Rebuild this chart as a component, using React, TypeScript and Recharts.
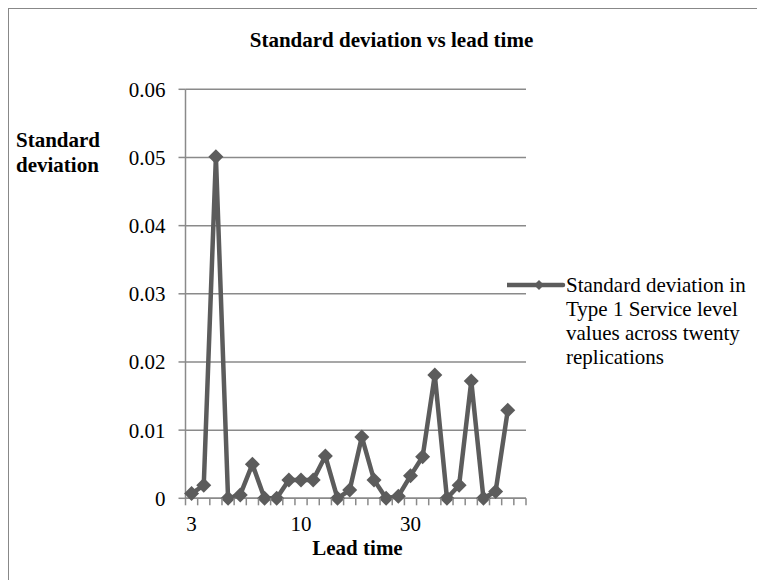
import React from "react";
import { ComposedChart, Line, XAxis, YAxis, CartesianGrid, Legend, Customized } from "recharts";

const leadTimes: string[] = [
  "3", "3", "3", "3", "3", "3", "3", "3", "3",
  "10", "10", "10", "10", "10", "10", "10", "10", "10",
  "30", "30", "30", "30", "30", "30", "30", "30", "30",
  "",
];

const stdDev: (number | null)[] = [
  0.0007, 0.0019, 0.0501, 0, 0.0005, 0.005, 0, 0, 0.0027,
  0.0027, 0.0027, 0.0062, 0, 0.0012, 0.009, 0.0027, 0, 0.0003,
  0.0033, 0.0061, 0.0181, 0, 0.0019, 0.0172, 0, 0.001, 0.0129,
  null,
];

const yTicks: number[] = [0, 0.01, 0.02, 0.03, 0.04, 0.05, 0.06];

const seriesName = "Standard deviation in Type 1 Service level values across twenty replications";
const legendLines: string[] = ["Standard deviation in", "Type 1 Service level", "values across twenty", "replications"];

const data = leadTimes.map((lead, i) => ({ idx: i, lead, sd: stdDev[i] }));

const FONT = '"Liberation Serif", "Times New Roman", serif';
const GRID = "#8a8a8a";
const LINE = "#5c5c5c";

const XTick = (props: any) => {
  const { x, y, payload, index } = props;
  const off = payload && typeof payload.offset === "number" && payload.offset > 0 ? payload.offset : 6.08;
  const i = typeof index === "number" ? index : Number(payload.value);
  const label = leadTimes[i] ?? "";
  const last = i === leadTimes.length - 1;
  return (
    <g>
      <line x1={x - off} x2={x - off} y1={y} y2={y + 7} stroke={GRID} strokeWidth={1.5} />
      {last && <line x1={x + off} x2={x + off} y1={y} y2={y + 7} stroke={GRID} strokeWidth={1.5} />}
      {i % 9 === 0 && label !== "" && (
        <text x={x} y={y + 33} textAnchor="middle" fontSize={21} fontFamily={FONT} fill="#000">
          {label}
        </text>
      )}
    </g>
  );
};

const Diamond = (props: any) => {
  const { cx, cy, index } = props;
  if (cx == null || cy == null || Number.isNaN(cy)) return <g key={`d-${index}`} />;
  const s = 7.5;
  return (
    <polygon
      key={`d-${index}`}
      points={`${cx},${cy - s} ${cx + s},${cy} ${cx},${cy + s} ${cx - s},${cy}`}
      fill={LINE}
      stroke="none"
    />
  );
};

const Texts = () => (
  <g fontFamily={FONT} fill="#000">
    <text x={382.5} y={38} textAnchor="middle" fontSize={21} fontWeight="bold">
      Standard deviation vs lead time
    </text>
    <text x={7} y={138} fontSize={21} fontWeight="bold">Standard</text>
    <text x={7} y={163} fontSize={21} fontWeight="bold">deviation</text>
    <text x={348.5} y={546} textAnchor="middle" fontSize={21} fontWeight="bold">
      Lead time
    </text>
  </g>
);

const LegendContent = () => (
  <svg width={258} height={120} style={{ display: "block" }}>
    <line x1={0} x2={56} y1={25} y2={25} stroke={LINE} strokeWidth={4.5} strokeLinecap="round" />
    <polygon points={`32,20 37,25 32,30 27,25`} fill={LINE} />
    {legendLines.map((t, k) => (
      <text key={k} x={59} y={32 + k * 24} fontSize={21} fontFamily={FONT} fill="#000">
        {t}
      </text>
    ))}
  </svg>
);

export default function App() {
  return (
    <div
      style={{
        width: 757,
        height: 572,
        boxSizing: "border-box",
        borderLeft: "1px solid #888",
        borderTop: "1px solid #888",
        fontFamily: FONT,
        background: "#fff",
      }}
    >
      <ComposedChart
        width={756}
        height={571}
        data={data}
        margin={{ top: 80.3, right: 239, bottom: 51.7, left: 0 }}
      >
        <CartesianGrid vertical={false} stroke={GRID} strokeWidth={1.5} />
        <XAxis
          dataKey="idx"
          type="category"
          scale="band"
          interval={0}
          height={30}
          tickLine={false}
          tickSize={0}
          tickMargin={0}
          axisLine={{ stroke: GRID, strokeWidth: 1.5 }}
          tick={<XTick />}
        />
        <YAxis
          width={176.5}
          domain={[0, 0.06]}
          ticks={yTicks}
          interval={0}
          tickSize={7}
          tickMargin={13}
          axisLine={{ stroke: GRID, strokeWidth: 1.5 }}
          tickLine={{ stroke: GRID, strokeWidth: 1.5 }}
          tick={{ fontSize: 21, fontFamily: FONT, fill: "#000" }}
          tickFormatter={(v: number) => String(v)}
        />
        <Legend
          layout="vertical"
          align="center"
          verticalAlign="middle"
          content={<LegendContent />}
          wrapperStyle={{ position: "absolute", left: 498, top: 251, width: 258, height: 120 }}
        />
        <Line
          name={seriesName}
          dataKey="sd"
          stroke={LINE}
          strokeWidth={4.5}
          dot={Diamond}
          activeDot={false}
          isAnimationActive={false}
          connectNulls={false}
        />
        <Customized component={Texts} />
      </ComposedChart>
    </div>
  );
}
